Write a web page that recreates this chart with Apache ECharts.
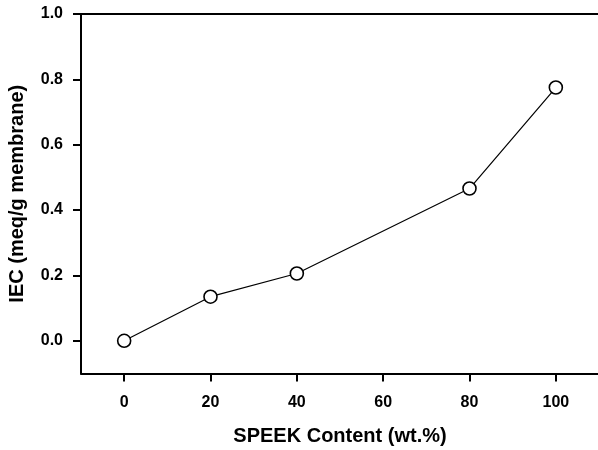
<!DOCTYPE html>
<html>
<head>
<meta charset="utf-8">
<script src="https://cdn.jsdelivr.net/npm/echarts@6/dist/echarts.min.js"></script>
<style>
  html, body { margin: 0; padding: 0; background: #fff; }
  #chart { width: 598px; height: 450px; }
</style>
</head>
<body>
<div id="chart"></div>
<script>
// SPEEK content (wt.%) and measured ion exchange capacity
const speekContent = [0, 20, 40, 80, 100];
const iecValues = [0.0, 0.135, 0.206, 0.466, 0.775];
const xTicks = [0, 20, 40, 60, 80, 100];
const yTicks = [0.0, 0.2, 0.4, 0.6, 0.8, 1.0];

const FONT = 'Liberation Sans, Arial, sans-serif';
const chart = echarts.init(document.getElementById('chart'));

chart.setOption({
  animation: false,
  backgroundColor: '#fff',
  grid: { left: 81, top: 14, width: 518, height: 359.5, containLabel: false, outerBoundsMode: 'none' },
  xAxis: [{
    type: 'value', position: 'bottom', min: -10, max: 110, interval: 10,
    axisLine: { onZero: false, lineStyle: { color: '#000', width: 2 } },
    axisTick: { length: 8, inside: false, lineStyle: { color: '#000', width: 2 },
      customValues: xTicks },
    axisLabel: { color: '#000', fontFamily: FONT, fontWeight: 'bold', fontSize: 16, margin: 21,
      customValues: xTicks, formatter: v => String(v) },
    splitLine: { show: false },
    name: 'SPEEK Content (wt.%)', nameLocation: 'middle', nameGap: 53,
    nameTextStyle: { color: '#000', fontFamily: FONT, fontWeight: 'bold', fontSize: 20 }
  }, {
    type: 'value', position: 'top', min: -10, max: 110,
    axisLine: { show: true, onZero: false, lineStyle: { color: '#000', width: 2 } },
    axisTick: { show: false }, axisLabel: { show: false }, splitLine: { show: false }
  }],
  yAxis: {
    type: 'value', min: -0.1, max: 1.0, interval: 0.1,
    axisLine: { show: true, onZero: false, lineStyle: { color: '#000', width: 2 } },
    axisTick: { show: true, length: 8, lineStyle: { color: '#000', width: 2 },
      customValues: yTicks },
    axisLabel: { color: '#000', fontFamily: FONT, fontWeight: 'bold', fontSize: 16, margin: 18,
      customValues: yTicks, formatter: v => v.toFixed(1) },
    splitLine: { show: false },
    name: 'IEC (meq/g membrane)', nameLocation: 'middle', nameGap: 54,
    nameTextStyle: { color: '#000', fontFamily: FONT, fontWeight: 'bold', fontSize: 20 }
  },
  series: [{
    type: 'line',
    data: speekContent.map((x, i) => [x, iecValues[i]]),
    symbol: 'circle', symbolSize: 13,
    itemStyle: { color: '#fff', borderColor: '#000', borderWidth: 1.6 },
    lineStyle: { color: '#000', width: 1.2 },
    clip: false
  }]
});
</script>
</body>
</html>
